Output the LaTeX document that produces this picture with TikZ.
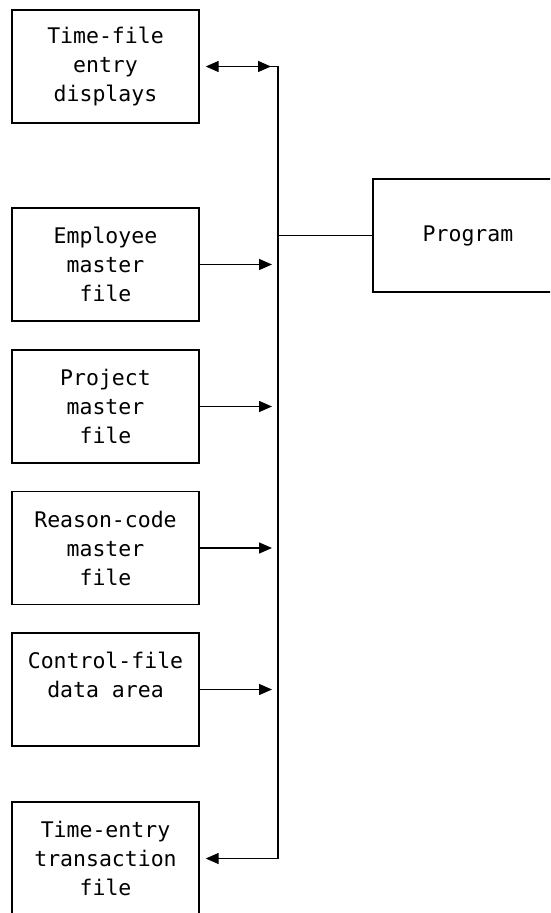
\documentclass[tikz,border=0pt]{standalone}
\usepackage{fontspec}
\setmonofont{DejaVu Sans Mono}
\usetikzlibrary{arrows.meta}
\begin{document}
\begin{tikzpicture}[x=0.5pt,y=0.5pt,line width=0.7pt,
  box/.style={draw,minimum width=93.5pt,minimum height=56.5pt,inner sep=0pt,
    align=center,font=\fontsize{10.75}{14.5}\selectfont\ttfamily},
  tip/.style={-{Triangle[length=6.5pt,width=5.5pt]}}]

\clip (0,0) rectangle (550,-913);

% files on the left
\node[box] (disp) at (105.5,-66.5) {Time-file\\entry\\displays};
\node[box] (emp) at (105.5,-264.5) {Employee\\master\\file};
\node[box] (proj) at (105.5,-406.5) {Project\\master\\file};
\node[box] (reas) at (105.5,-548) {Reason-code\\master\\file};
\node[box] (ctrl) at (105.5,-689.5) {Control-file\\data area\\\mbox{}};
\node[box] (trans) at (105.5,-858.5) {Time-entry\\transaction\\file};

% program (runs off the right edge)
\node[box,minimum width=95pt] (prog) at (468,-235.5) {Program};

% bus
\coordinate (T) at (278,-66.5);
\coordinate (B) at (278,-858.5);

\draw[{Triangle[length=6.5pt,width=5.5pt]}-{Triangle[length=6.5pt,width=5.5pt]},
  shorten <=3pt,shorten >=3.5pt] (disp.east) -- (T);
\draw (T) -- ([xshift=-4pt]T);
\draw[tip,shorten >=3pt] (T) -- (B) -- (trans.east);
\draw (prog.west -| T) -- (prog.west);

\draw[tip,shorten >=3pt] (emp.east) -- (emp.east -| T);
\draw[tip,shorten >=3pt] (proj.east) -- (proj.east -| T);
\draw[tip,shorten >=3pt] (reas.east) -- (reas.east -| T);
\draw[tip,shorten >=3pt] (ctrl.east) -- (ctrl.east -| T);
\end{tikzpicture}
\end{document}
